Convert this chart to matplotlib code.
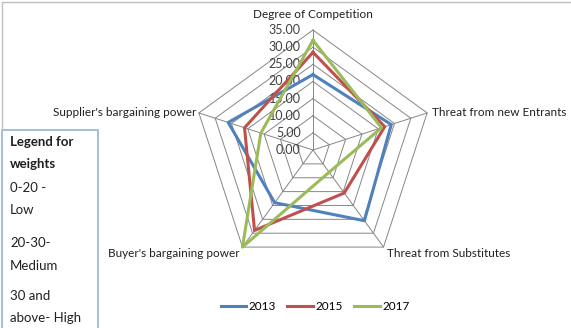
import matplotlib.pyplot as plt
from matplotlib.lines import Line2D
from matplotlib.patches import Rectangle
import numpy as np

plt.rcParams['font.family'] = ['Lato', 'DejaVu Sans']

categories = ['Degree of Competition', 'Threat from new Entrants', 'Threat from Substitutes',
              "Buyer's bargaining power", "Supplier's bargaining power"]
years = ['2013', '2015', '2017']
v2013 = [22, 24, 25.5, 19, 26]
v2015 = [28.5, 22, 15.5, 29, 21]
v2017 = [32, 21, 8, 35, 16]
ring_ticks = [0, 5, 10, 15, 20, 25, 30, 35]
colors = ['#4F81BD', '#C0504D', '#9BBB59']

W, H = 571, 328
fig = plt.figure(figsize=(W / 100, H / 100), dpi=100)

# cartesian axes, pentagon radar drawn by hand; center at pixel (313,150), r=35 -> 120 px
scale = 120 / 35.0
ax = fig.add_axes([0, 0, 1, 1])
ax.set_xlim(-313 / scale, (W - 313) / scale)
ax.set_ylim(-(H - 150) / scale, 150 / scale)
ax.axis('off')

n = len(categories)
ang = np.pi / 2 - 2 * np.pi * np.arange(n) / n
ux, uy = np.cos(ang), np.sin(ang)

def closed(a):
    return np.append(a, a[0])

# grid rings and spokes
for r in ring_ticks[1:]:
    ax.plot(closed(ux * r), closed(uy * r), color='#868686', lw=0.7, zorder=1)
for i in range(n):
    ax.plot([0, ux[i] * 35], [0, uy[i] * 35], color='#868686', lw=0.7, zorder=1)

# ring labels
for r in ring_ticks:
    ax.text(-3.6, r, '%.2f' % r, ha='right', va='center', fontsize=9, color='#404040', zorder=2)

# category labels
lab_pos = [('center', 'bottom'), ('left', 'center'), ('left', 'top'), ('right', 'top'), ('right', 'center')]
offs = [(0, 2.8), (1.5, 0), (0.9, -0.3), (-0.8, -0.3), (-0.6, 0)]
for i, cat in enumerate(categories):
    ha, va = lab_pos[i]
    ax.text(ux[i] * 35 + offs[i][0], uy[i] * 35 + offs[i][1], cat, ha=ha, va=va,
            fontsize=8.5, color='#202020')

# series
for vals, c in zip([v2013, v2015, v2017], colors):
    v = np.array(vals)
    ax.plot(closed(ux * v), closed(uy * v), color=c, lw=2.2, zorder=3)

handles = [Line2D([], [], color=c, lw=2.2) for c in colors]
fig.legend(handles, years, loc='center', bbox_to_anchor=(315 / W, 1 - 307 / H), ncol=3,
           frameon=False, fontsize=8.5, handlelength=2.2, handletextpad=0.15, columnspacing=1.0)

# outer chart frame (top and left)
fig.add_artist(Line2D([2 / W, 1], [1 - 2 / H, 1 - 2 / H], color='#bfbfbf', lw=1))
fig.add_artist(Line2D([2 / W, 2 / W], [1 - 2 / H, 1 - 130 / H], color='#bfbfbf', lw=1))

# weights legend box
fig.add_artist(Rectangle((2 / W, -0.02), 96 / W, 1 - 130 / H + 0.02, transform=fig.transFigure,
                         facecolor='white', edgecolor='#95B3D7', lw=1.2))
box_lines = [('Legend for', 142, 'bold'), ('weights', 164, 'bold'),
             ('0-20 -', 188, 'normal'), ('Low', 210, 'normal'),
             ('20-30-', 243, 'normal'), ('Medium', 266, 'normal'),
             ('30 and', 296, 'normal'), ('above- High', 318, 'normal')]
for txt, y, w in box_lines:
    fig.text(10 / W, 1 - y / H, txt, ha='left', va='center', fontsize=9.5, fontweight=w,
             color='#202020')

fig.savefig('out.png', dpi=100)
